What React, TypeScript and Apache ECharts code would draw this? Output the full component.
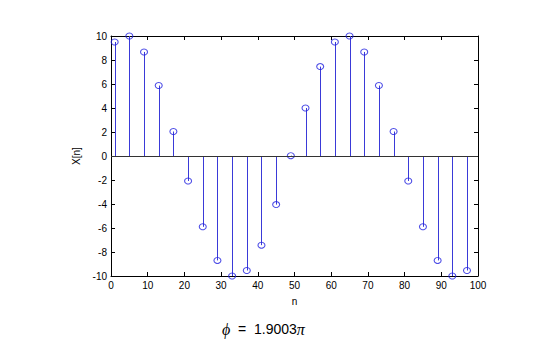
import React, { useEffect, useRef } from "react";
import * as echarts from "echarts";

const nValues = [1, 5, 9, 13, 17, 21, 25, 29, 33, 37, 41, 45, 49, 53, 57, 61, 65, 69, 73, 77, 81, 85, 89, 93, 97];
const xValues = [9.5, 10, 8.67, 5.87, 2.04, -2.08, -5.9, -8.7, -10, -9.54, -7.43, -4.05, 0.03, 4.0, 7.45, 9.5, 10, 8.67, 5.87, 2.04, -2.08, -5.9, -8.7, -10, -9.54];
const xTicks = [0, 10, 20, 30, 40, 50, 60, 70, 80, 90, 100];
const yTicks = [-10, -8, -6, -4, -2, 0, 2, 4, 6, 8, 10];
const xLabel = "n";
const yLabel = "X[n]";
const phaseText = "1.9003";

export default function App() {
  const ref = useRef<HTMLDivElement>(null);
  useEffect(() => {
    if (!ref.current) return;
    const chart = echarts.init(ref.current, null, { renderer: "svg" });
    const pts = nValues.map((n, i) => [n, xValues[i]]);
    const font = "'Liberation Sans', Arial, sans-serif";
    const axisCommon = {
      type: "value" as const,
      axisLine: { show: true, onZero: false, lineStyle: { color: "#000", width: 1 } },
      axisTick: { show: true, inside: true, length: 4, lineStyle: { color: "#000" } },
      splitLine: { show: false },
    };
    chart.setOption({
      animation: false,
      backgroundColor: "#fff",
      grid: { left: 103, right: 72, top: 28, bottom: 74, containLabel: false },
      xAxis: [
        {
          ...axisCommon,
          min: xTicks[0],
          max: xTicks[xTicks.length - 1],
          interval: 10,
          position: "bottom",
          axisLabel: { color: "#000", fontSize: 10, fontFamily: font, margin: 4 },
          name: xLabel,
          nameLocation: "middle",
          nameGap: 20,
          nameTextStyle: { color: "#000", fontSize: 10, fontFamily: font },
        },
        {
          ...axisCommon,
          min: xTicks[0],
          max: xTicks[xTicks.length - 1],
          interval: 10,
          position: "top",
          axisLabel: { show: false },
        },
      ],
      yAxis: [
        {
          ...axisCommon,
          min: yTicks[0],
          max: yTicks[yTicks.length - 1],
          interval: 2,
          position: "left",
          axisLabel: { color: "#000", fontSize: 10, fontFamily: font, margin: 4 },
          name: yLabel,
          nameLocation: "middle",
          nameGap: 24,
          nameTextStyle: { color: "#000", fontSize: 10, fontFamily: font },
        },
        {
          ...axisCommon,
          min: yTicks[0],
          max: yTicks[yTicks.length - 1],
          interval: 2,
          position: "right",
          axisLabel: { show: false },
        },
      ],
      series: [
        {
          type: "custom",
          silent: true,
          clip: false,
          data: pts,
          renderItem: (params: any, api: any) => {
            const x = api.value(0);
            const y = api.value(1);
            const p0 = api.coord([x, 0]);
            const p1 = api.coord([x, y]);
            const sx = Math.round(p0[0]) + 0.5;
            return {
              type: "line",
              shape: { x1: sx, y1: p0[1], x2: sx, y2: p1[1] },
              style: { stroke: "#3a3ad8", lineWidth: 1 },
            };
          },
          markLine: {
            silent: true,
            symbol: "none",
            label: { show: false },
            lineStyle: { color: "#333", width: 1, type: "solid" },
            data: [[{ coord: [0, 0] }, { coord: [100, 0] }]],
          },
          z: 2,
        },
        {
          type: "scatter",
          data: pts,
          clip: false,
          symbol: "circle",
          symbolSize: [7, 6],
          itemStyle: { color: "rgba(255,255,255,0)", borderColor: "#2020e0", borderWidth: 1 },
          z: 3,
        },
      ],
      graphic: [
        {
          type: "text",
          left: 214,
          top: 313,
          style: {
            text: "{s|ϕ}{n|  =  " + phaseText + "}{s|π}",
            rich: {
              s: { fontFamily: "'Liberation Serif', 'DejaVu Serif', serif", fontStyle: "italic", fontSize: 16, fill: "#000" },
              n: { fontFamily: font, fontSize: 14, fill: "#000" },
            },
          },
        },
      ],
    });
    return () => chart.dispose();
  }, []);
  return <div ref={ref} style={{ width: 542, height: 342 }} />;
}
